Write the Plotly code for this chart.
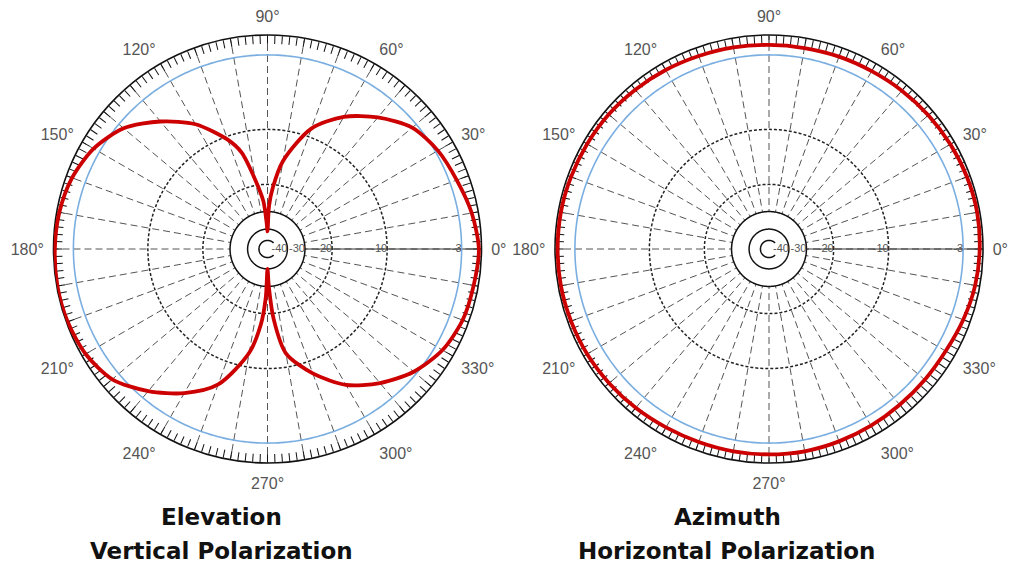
import numpy as np
import plotly.graph_objects as go

# ---------------- data ----------------
# radial scale (dB level -> fraction of plot radius), read off the grid rings
scale_db = [-50, -40, -30, -20, -10, -3, 0]
scale_r = [0.04, 0.093, 0.175, 0.302, 0.559, 0.907, 1.0]

radial_tick_db = [-3, -10, -20, -30, -40]
radial_tick_text = ["-3", "-10", "-20", "-30", "-40"]

angle_labels = list(range(0, 360, 30))
grid_angles = list(range(0, 360, 10))
minor_tick_angles = list(range(0, 360, 2))

# Elevation / vertical polarization (dB)
elev_theta = [0, 10, 20, 30, 40, 50, 60, 70, 80, 85, 88, 90, 92, 95, 100, 105, 110,
              120, 130, 140, 150, 160, 170, 180, 190, 200, 210, 220, 230, 240, 250,
              260, 265, 268, 270, 272, 275, 280, 290, 300, 310, 320, 330, 340, 350, 360]
elev_db = [-0.4, -1.0, -1.9, -2.6, -3.5, -5.1, -6.9, -9.2, -15.5, -21, -28, -42, -36, -26, -19, -13.6, -10.6,
           -7.7, -5.6, -3.6, -2.0, -0.9, -0.4, -0.2, -0.1, -0.2, -0.6, -1.7, -3.8, -5.6, -7.7,
           -12.6, -18, -26, -40, -30, -19, -12.5, -8.8, -6.5, -4.8, -3.3, -1.8, -0.95, -0.7, -0.4]

# Azimuth / horizontal polarization (dB)
azim_theta = list(range(0, 370, 10))
azim_db = [-0.5, -0.4, -0.5, -0.7, -0.9, -1.1, -1.3, -1.4, -1.5, -1.5, -1.4, -1.3, -1.1,
           -0.9, -0.7, -0.6, -0.5, -0.4, -0.4, -0.4, -0.5, -0.6, -0.8, -1.0, -1.2, -1.3,
           -1.3, -1.3, -1.3, -1.4, -1.5, -1.6, -1.6, -1.5, -1.1, -0.7, -0.5]

titles = [("Elevation", "Vertical Polarization"), ("Azimuth", "Horizontal Polarization")]
patterns = [(elev_theta, elev_db), (azim_theta, azim_db)]


def to_r(db):
    return np.interp(db, scale_db, scale_r)


# ---------------- figure ----------------
W, H = 1012, 570
fig = go.Figure()

centers_x = [267.5, 769]
cy = 249
R = 214
ring_theta = np.arange(0, 361, 1)
label_font = dict(family="Liberation Sans, Arial", size=16, color="#555")

for i in range(2):
    base = "polar" if i == 0 else "polar3"
    over = "polar2" if i == 0 else "polar4"
    dx = [(centers_x[i] - R) / W, (centers_x[i] + R) / W]
    dy = [(H - cy - R) / H, (H - cy + R) / H]

    fig.update_layout(**{
        base: dict(
            domain=dict(x=dx, y=dy), bgcolor="white",
            angularaxis=dict(rotation=0, direction="counterclockwise", tickmode="array",
                             tickvals=grid_angles,
                             ticktext=[f"{a}°" if a in angle_labels else "" for a in grid_angles],
                             showticklabels=True, ticks="outside", ticklen=6,
                             tickcolor="rgba(0,0,0,0)", tickfont=label_font,
                             showgrid=True, gridcolor="#555", griddash="7px,4px", gridwidth=1.2,
                             showline=False),
            radialaxis=dict(range=[0, 1], showgrid=False, showticklabels=False, ticks="",
                            showline=True, linecolor="#333", linewidth=1, angle=0,
                            layer="below traces"),
        ),
        over: dict(
            domain=dict(x=dx, y=dy), bgcolor="rgba(0,0,0,0)",
            angularaxis=dict(rotation=0, direction="counterclockwise", tickmode="array",
                             tickvals=minor_tick_angles, showticklabels=False,
                             ticks="inside", ticklen=8, tickwidth=1.4, tickcolor="#111",
                             showgrid=False, showline=True, linecolor="#111", linewidth=1.6,
                             layer="below traces"),
            radialaxis=dict(range=[0, 1], visible=False),
        ),
    })

    # white core hiding spokes inside the -30 ring
    fig.add_trace(go.Scatterpolar(r=[to_r(-30)] * len(ring_theta), theta=ring_theta, mode="lines",
                                  fill="toself", fillcolor="white", line=dict(width=0, color="white"),
                                  subplot=base, hoverinfo="skip", showlegend=False))
    # dashed rings
    for lev in [-10, -20]:
        fig.add_trace(go.Scatterpolar(r=[to_r(lev)] * len(ring_theta), theta=ring_theta, mode="lines",
                                      line=dict(color="#222", width=1.5, dash="3px,2px"),
                                      subplot=base, hoverinfo="skip", showlegend=False))
    # solid inner rings
    for lev in [-30, -40]:
        fig.add_trace(go.Scatterpolar(r=[to_r(lev)] * len(ring_theta), theta=ring_theta, mode="lines",
                                      line=dict(color="#111", width=1.5),
                                      subplot=base, hoverinfo="skip", showlegend=False))
    arc = np.arange(45, 316, 1)
    fig.add_trace(go.Scatterpolar(r=[to_r(-50)] * len(arc), theta=arc, mode="lines",
                                  line=dict(color="#111", width=1.5),
                                  subplot=base, hoverinfo="skip", showlegend=False))
    # -3 dB ring
    fig.add_trace(go.Scatterpolar(r=[to_r(-3)] * len(ring_theta), theta=ring_theta, mode="lines",
                                  line=dict(color="#7aaee0", width=1.6),
                                  subplot=base, hoverinfo="skip", showlegend=False))
    # radial labels
    fig.add_trace(go.Scatterpolar(r=to_r(radial_tick_db), theta=[0] * len(radial_tick_db),
                                  mode="text", text=radial_tick_text, textposition="middle left",
                                  textfont=dict(family="Liberation Sans, Arial", size=11, color="#555"),
                                  subplot=base, hoverinfo="skip", showlegend=False))
    # pattern
    th, db = patterns[i]
    fig.add_trace(go.Scatterpolar(r=to_r(db), theta=th, mode="lines",
                                  line=dict(color="#cc0000", width=3.8, shape="spline", smoothing=0.8),
                                  subplot=over, hoverinfo="skip", showlegend=False))

# titles
title_x = [221, 727]
for i, (t1, t2) in enumerate(titles):
    fig.add_annotation(x=title_x[i] / W, y=1 - 517 / H, xref="paper", yref="paper", text=f"<b>{t1}</b>",
                       showarrow=False, xanchor="center", yanchor="middle",
                       font=dict(family="DejaVu Sans", size=23, color="#111"))
    fig.add_annotation(x=title_x[i] / W, y=1 - 551 / H, xref="paper", yref="paper", text=f"<b>{t2}</b>",
                       showarrow=False, xanchor="center", yanchor="middle",
                       font=dict(family="DejaVu Sans", size=23, color="#111"))

fig.update_layout(width=W, height=H, margin=dict(l=0, r=0, t=0, b=0),
                  paper_bgcolor="white", showlegend=False)

fig.write_html("out.html", config={"displayModeBar": False},
               post_script="document.body.style.margin='0px';")
